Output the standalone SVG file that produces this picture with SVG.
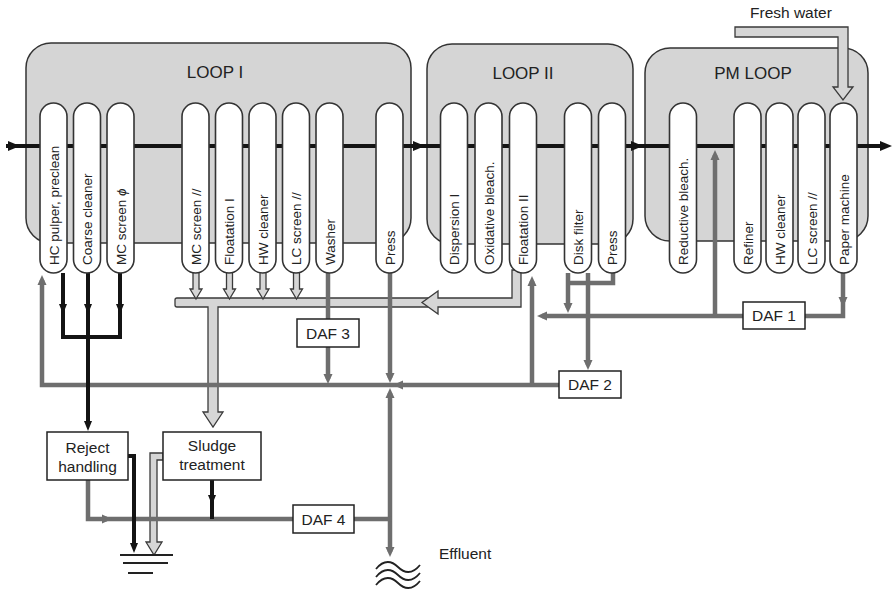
<svg xmlns="http://www.w3.org/2000/svg" width="892" height="590" viewBox="0 0 892 590">
<defs>
<style>
.loop{fill:#d5d5d5;stroke:#333;stroke-width:1.5}
.pill{fill:#fff;stroke:#333;stroke-width:1.6}
text{font-family:"Liberation Sans",Arial,sans-serif;fill:#222}
.pt{font-size:13.5px}
.lbl{font-size:17px;text-anchor:middle}
.bt{font-size:15.5px;text-anchor:middle}
.box{fill:#fff;stroke:#222;stroke-width:1.5}
.g{stroke:#6e6e6e;stroke-width:4.5;fill:none}
.k{stroke:#141414;stroke-width:4;fill:none}
.hol{fill:#d6d6d6;stroke:#3a3a3a;stroke-width:1.3;stroke-linejoin:miter}
.thin{stroke:#222;stroke-width:1.8;fill:none}
</style>
<marker id="ag" markerUnits="userSpaceOnUse" markerWidth="12" markerHeight="10" refX="5" refY="5" orient="auto"><path d="M0,0.5 L10,5 L0,9.5 z" fill="#6e6e6e"/></marker>
<marker id="ak" markerUnits="userSpaceOnUse" markerWidth="12" markerHeight="10" refX="5" refY="5" orient="auto"><path d="M0,1 L10,5 L0,9 z" fill="#141414"/></marker>
<marker id="am" markerUnits="userSpaceOnUse" markerWidth="14" markerHeight="12" refX="6" refY="5" orient="auto"><path d="M0,0 L12,5 L0,10 z" fill="#141414"/></marker>
</defs>
<rect width="892" height="590" fill="#fff"/>

<g id="loop1"><rect class="loop" x="26" y="43" width="385" height="200" rx="25"/><text class="lbl" x="215" y="78">LOOP I</text></g>
<g id="loop2"><rect class="loop" x="427" y="44" width="206" height="200" rx="25"/><text class="lbl" x="523" y="79">LOOP II</text></g>
<g id="pmloop"><rect class="loop" x="645" y="48" width="223" height="193" rx="25"/><text class="lbl" x="753" y="79">PM LOOP</text></g>

<g id="connectors">
<!-- main flow -->
<path class="k" d="M6,146 H886" stroke-width="4.5" marker-end="url(#am)"/>
<path class="k" d="M9,146 H14" marker-end="url(#am)"/>
<path class="k" d="M414,146 H419" marker-end="url(#am)"/>
<path class="k" d="M632,146 H637" marker-end="url(#am)"/>
<!-- fresh water -->
<path class="hol" d="M735,27 H848 V87 H853 L843,100 L833,87 H838 V37 H735 Z"/>
<!-- sludge header -->
<path class="hol" d="M177,298 H430 V307 H218 V412 H223 L213,427 L203,412 H208 V307 H177 Q175,307 175,305 V300 Q175,298 177,298 Z"/>
<path class="hol" d="M512,270 V298 H438 V291 L422,302.5 L438,314 V307 H521 V270 Z"/>
<path class="hol" d="M193,272 V289 H190 L196,299 L202,289 H199 V272 Z"/>
<path class="hol" d="M226.5,272 V289 H223.5 L229.5,299 L235.5,289 H232.5 V272 Z"/>
<path class="hol" d="M260,272 V289 H257 L263,299 L269,289 H266 V272 Z"/>
<path class="hol" d="M293.5,272 V289 H290.5 L296.5,299 L302.5,289 H299.5 V272 Z"/>
<!-- sludge to ground -->
<path class="hol" d="M163,453 H150 V542 H146 L154,555 L162,542 H157 V460 H163 Z"/>
<!-- gray water lines -->
<path class="g" d="M398,385 H42 V280" marker-end="url(#ag)"/>
<path class="g" d="M559,385 H398" marker-end="url(#ag)"/>
<path class="g" d="M328,273 V319"/>
<path class="g" d="M328,347 V379" marker-end="url(#ag)"/>
<path class="g" d="M390,273 V378" marker-end="url(#ag)"/>
<path class="g" d="M390,519 V393" marker-end="url(#ag)"/>
<path class="g" d="M390,519 V552" marker-end="url(#ag)"/>
<path class="g" d="M354,519 H392" stroke-width="6"/>
<path class="g" d="M88,480 V519 H293"/>
<path class="g" d="M102,519 H107" marker-end="url(#ag)"/>
<path class="g" d="M532,385 V281" marker-end="url(#ag)"/>
<path class="g" d="M743,316 H542" marker-end="url(#ag)"/>
<path class="g" d="M715,316 V155" marker-end="url(#ag)"/>
<path class="g" d="M613,273 V283 H568"/>
<path class="g" d="M568,273 V308" marker-end="url(#ag)"/>
<path class="g" d="M588,273 V365" marker-end="url(#ag)"/>
<path class="g" d="M843,273 V316 H805"/>
<path class="g" d="M843,297 V302" marker-end="url(#ag)"/>
<!-- black reject lines -->
<path class="k" d="M63,273 V337 H120 V273"/>
<path class="k" d="M88,273 V426" marker-end="url(#ak)"/>
<path class="k" d="M63,304 V309" marker-end="url(#ak)"/>
<path class="k" d="M88,304 V309" marker-end="url(#ak)"/>
<path class="k" d="M120,304 V309" marker-end="url(#ak)"/>
<path class="k" d="M128,456 H134 V548" marker-end="url(#ak)"/>
<path class="k" d="M212,480 V519"/>
<path class="k" d="M212,495 V500" marker-end="url(#ak)"/>
<!-- ground -->
<path class="thin" d="M120,555 H173 M123,563 H168 M128,573 H153"/>
<!-- effluent waves -->
<path class="thin" stroke-width="1.5" d="M376,569 C384,559 392,561 398,567 S412,575 420,565 M376,577 C384,567 392,569 398,575 S412,583 420,573 M376,585 C384,575 392,577 398,583 S412,591 420,581"/>
<text x="750" y="18" font-size="15.5">Fresh water</text>
<text x="439" y="559" font-size="15.5">Effluent</text>
</g>

<g id="hc-pulper"><rect class="pill" x="40" y="103" width="27" height="170" rx="13.5"/><text class="pt" transform="translate(58.5,265) rotate(-90)">HC pulper, preclean</text></g>
<g id="coarse-cleaner"><rect class="pill" x="73.5" y="103" width="27" height="170" rx="13.5"/><text class="pt" transform="translate(92,265) rotate(-90)">Coarse cleaner</text></g>
<g id="mc-screen-phi"><rect class="pill" x="107" y="103" width="27" height="170" rx="13.5"/><text class="pt" transform="translate(125.5,265) rotate(-90)">MC screen <tspan font-style="italic">ϕ</tspan></text></g>
<g id="mc-screen-par"><rect class="pill" x="182" y="103" width="27" height="170" rx="13.5"/><text class="pt" transform="translate(200.5,265) rotate(-90)">MC screen //</text></g>
<g id="floatation1"><rect class="pill" x="215.5" y="103" width="27" height="170" rx="13.5"/><text class="pt" transform="translate(234,265) rotate(-90)">Floatation I</text></g>
<g id="hw-cleaner1"><rect class="pill" x="249" y="103" width="27" height="170" rx="13.5"/><text class="pt" transform="translate(267.5,265) rotate(-90)">HW cleaner</text></g>
<g id="lc-screen1"><rect class="pill" x="282.5" y="103" width="27" height="170" rx="13.5"/><text class="pt" transform="translate(301,265) rotate(-90)">LC screen //</text></g>
<g id="washer"><rect class="pill" x="316" y="103" width="27" height="170" rx="13.5"/><text class="pt" transform="translate(334.5,265) rotate(-90)">Washer</text></g>
<g id="press1"><rect class="pill" x="376" y="103" width="27" height="170" rx="13.5"/><text class="pt" transform="translate(394.5,265) rotate(-90)">Press</text></g>
<g id="dispersion"><rect class="pill" x="440.5" y="103" width="27" height="170" rx="13.5"/><text class="pt" transform="translate(459,265) rotate(-90)">Dispersion I</text></g>
<g id="ox-bleach"><rect class="pill" x="475" y="103" width="27" height="170" rx="13.5"/><text class="pt" transform="translate(493.5,265) rotate(-90)">Oxidative bleach.</text></g>
<g id="floatation2"><rect class="pill" x="509.5" y="103" width="27" height="170" rx="13.5"/><text class="pt" transform="translate(528,265) rotate(-90)">Floatation II</text></g>
<g id="disk-filter"><rect class="pill" x="564.5" y="103" width="27" height="170" rx="13.5"/><text class="pt" transform="translate(583,265) rotate(-90)">Disk filter</text></g>
<g id="press2"><rect class="pill" x="598.5" y="103" width="27" height="170" rx="13.5"/><text class="pt" transform="translate(617,265) rotate(-90)">Press</text></g>
<g id="red-bleach"><rect class="pill" x="669.5" y="103" width="27" height="170" rx="13.5"/><text class="pt" transform="translate(688,265) rotate(-90)">Reductive bleach.</text></g>
<g id="refiner"><rect class="pill" x="734" y="103" width="27" height="170" rx="13.5"/><text class="pt" transform="translate(752.5,265) rotate(-90)">Refiner</text></g>
<g id="hw-cleaner2"><rect class="pill" x="766" y="103" width="27" height="170" rx="13.5"/><text class="pt" transform="translate(784.5,265) rotate(-90)">HW cleaner</text></g>
<g id="lc-screen2"><rect class="pill" x="798" y="103" width="27" height="170" rx="13.5"/><text class="pt" transform="translate(816.5,265) rotate(-90)">LC screen //</text></g>
<g id="paper-machine"><rect class="pill" x="830" y="103" width="27" height="170" rx="13.5"/><text class="pt" transform="translate(848.5,265) rotate(-90)">Paper machine</text></g>

<g id="daf1"><rect class="box" x="743" y="302" width="62" height="27"/><text class="bt" x="774" y="321">DAF 1</text></g>
<g id="daf2"><rect class="box" x="559" y="371" width="62" height="27"/><text class="bt" x="590" y="390">DAF 2</text></g>
<g id="daf3"><rect class="box" x="297" y="319" width="62" height="28"/><text class="bt" x="328" y="339">DAF 3</text></g>
<g id="daf4"><rect class="box" x="293" y="505" width="61" height="28"/><text class="bt" x="323.5" y="525">DAF 4</text></g>
<g id="reject"><rect class="box" x="47" y="432" width="81" height="48"/><text class="bt" x="87.5" y="453">Reject</text><text class="bt" x="87.5" y="472">handling</text></g>
<g id="sludge"><rect class="box" x="163" y="432" width="98" height="48"/><text class="bt" x="212" y="451">Sludge</text><text class="bt" x="212" y="470">treatment</text></g>
</svg>
